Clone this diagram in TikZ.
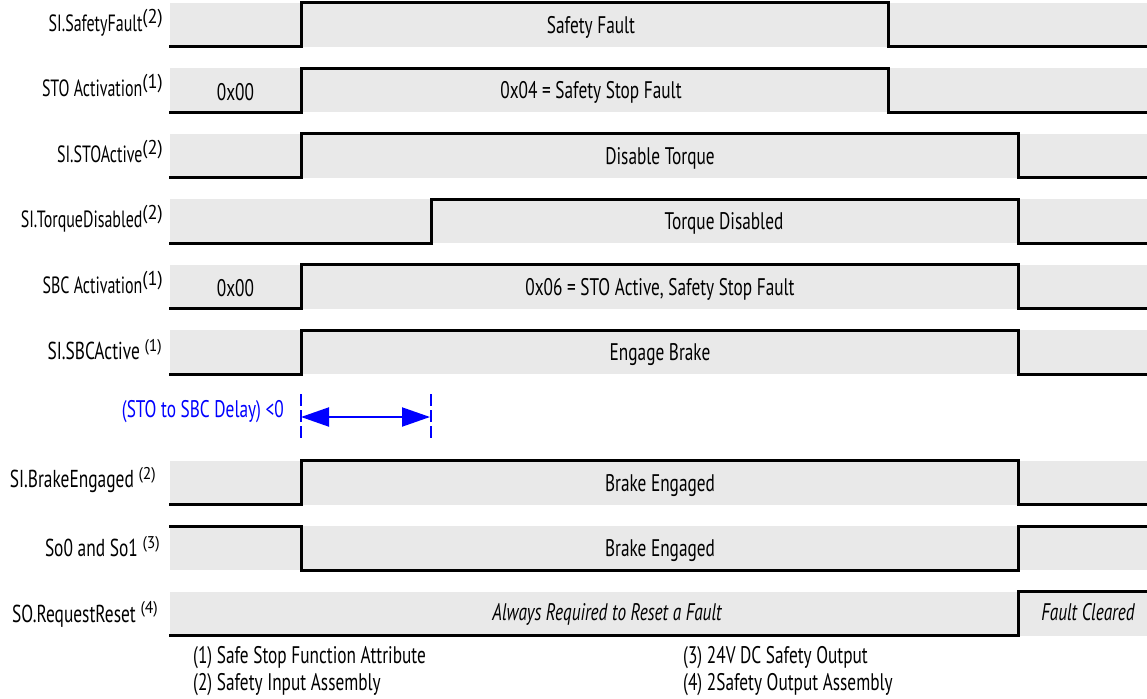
\documentclass[tikz,border=0pt]{standalone}
\usepackage{fontspec}
\setmainfont{PT Sans}[FakeStretch=0.72]
\newfontfamily\lblfont{PT Sans}[FakeStretch=0.68]
\newfontfamily\lblfontb{PT Sans}[FakeStretch=0.71]
\newfontfamily\supfont{PT Sans}[FakeStretch=0.92]
\usetikzlibrary{arrows.meta}
\definecolor{bandgray}{RGB}{233,233,233}
\definecolor{dlyblue}{RGB}{0,0,255}
\newcommand\bigsup[1]{\raisebox{8pt}{\supfont\fontsize{20}{21}\selectfont #1}}
\newcommand\smlsup[1]{\raisebox{8.5pt}{\supfont\fontsize{17}{18}\selectfont #1}}
\begin{document}
\begin{tikzpicture}[x=1pt,y=-1pt,
  font=\fontsize{24}{27}\selectfont,
  band/.style={fill=bandgray,draw=none},
  sig/.style={line width=3pt,line join=miter},
  lbl/.style={anchor=base east,inner sep=0pt,font=\lblfont\fontsize{23.5}{26}\selectfont},
  lblb/.style={anchor=base east,inner sep=0pt,font=\lblfontb\fontsize{24.5}{27}\selectfont},
  txt/.style={anchor=base,inner sep=0pt},
  foot/.style={anchor=base west,inner sep=0pt},
  dly/.style={draw=dlyblue,line width=2pt,dash pattern=on 12pt off 4pt},
  dlyarrow/.style={draw=dlyblue,line width=2pt,{Triangle[length=28pt,width=19pt]}-{Triangle[length=28pt,width=19pt]}}
]
\useasboundingbox (0,0) rectangle (1147,698);
% bands
\foreach \t in {3,68.4,133.8,199.2,264.6,330,460.8,526.2,591.6}
  \fill[band] (170,\t) rectangle (1147,\t+44);
% row 1 SI.SafetyFault
\node[lbl] (l1) at (163,31.5) {SI.SafetyFault\bigsup{(2)}};
\draw[sig] (169,47) -- (301,47) -- (301,3) -- (888,3) -- (888,47) -- (1147,47);
\node[txt] (t1) at (591,33.5) {Safety Fault};
% row 2 STO Activation
\node[lbl] (l2) at (163,96.9) {STO Activation\bigsup{(1)}};
\draw[sig] (169,112.4) -- (301,112.4) -- (301,68.4) -- (888,68.4) -- (888,112.4) -- (1147,112.4);
\node[txt] (v2) at (235.5,100.5) {0x00};
\node[txt] (t2) at (591,98.9) {0x04 = Safety Stop Fault};
% row 3 SI.STOActive
\node[lbl] (l3) at (163,162.3) {SI.STOActive\bigsup{(2)}};
\draw[sig] (169,177.8) -- (301,177.8) -- (301,133.8) -- (1018,133.8) -- (1018,177.8) -- (1147,177.8);
\node[txt] (t3) at (660,164.3) {Disable Torque};
% row 4 SI.TorqueDisabled
\node[lbl] (l4) at (163,227.7) {SI.TorqueDisabled\bigsup{(2)}};
\draw[sig] (169,243.2) -- (431,243.2) -- (431,199.2) -- (1018,199.2) -- (1018,243.2) -- (1147,243.2);
\node[txt] (t4) at (724,229.7) {Torque Disabled};
% row 5 SBC Activation
\node[lbl] (l5) at (163,293.1) {SBC Activation\bigsup{(1)}};
\draw[sig] (169,308.6) -- (301,308.6) -- (301,264.6) -- (1018,264.6) -- (1018,308.6) -- (1147,308.6);
\node[txt] (v5) at (235.5,296.7) {0x00};
\node[txt] (t5) at (660,295.1) {0x06 = STO Active, Safety Stop Fault};
% row 6 SI.SBCActive
\node[lblb] (l6) at (162,359.5) {SI.SBCActive \smlsup{(1)}};
\draw[sig] (169,374) -- (301,374) -- (301,330) -- (1018,330) -- (1018,374) -- (1147,374);
\node[txt] (t6) at (660,360.5) {Engage Brake};
% delay
\coordinate (d1a) at (301,394);
\coordinate (d1b) at (301,438);
\coordinate (d2a) at (431,394);
\coordinate (d2b) at (431,438);
\coordinate (a1) at (301,417);
\coordinate (a2) at (430,417);
\draw[dly] (d1a) -- (d1b);
\draw[dly] (d2a) -- (d2b);
\draw[dlyarrow] (a1) -- (a2);
\node[txt,anchor=base east,text=dlyblue] (dl) at (284,417) {(STO to SBC Delay) <0};
% row 8 SI.BrakeEngaged
\node[lblb] (l8) at (156,487.5) {SI.BrakeEngaged \smlsup{(2)}};
\draw[sig] (169,504.8) -- (301,504.8) -- (301,460.8) -- (1018,460.8) -- (1018,504.8) -- (1147,504.8);
\node[txt] (t8) at (660,491.3) {Brake Engaged};
% row 9 So0 and So1
\node[lblb] (l9) at (160,556.7) {So0 and So1 \smlsup{(3)}};
\draw[sig] (169,526.2) -- (301,526.2) -- (301,570.2) -- (1018,570.2) -- (1018,526.2) -- (1147,526.2);
\node[txt] (t9) at (660,556.7) {Brake Engaged};
% row 10 SO.RequestReset
\node[lblb] (l10) at (158,622.1) {SO.RequestReset \smlsup{(4)}};
\draw[sig] (169,635.6) -- (1018,635.6) -- (1018,591.6) -- (1147,591.6);
\node[txt] (t10) at (607,620) {\itshape Always Required to Reset a Fault};
\node[txt] (t10b) at (1088,620) {\itshape Fault Cleared};
% footnotes
\node[foot] (f1) at (193,663) {(1) Safe Stop Function Attribute};
\node[foot] (f2) at (193,690) {(2) Safety Input Assembly};
\node[foot] (f3) at (683,663) {(3) 24V DC Safety Output};
\node[foot] (f4) at (683,690) {(4) 2Safety Output Assembly};
\end{tikzpicture}
\end{document}
